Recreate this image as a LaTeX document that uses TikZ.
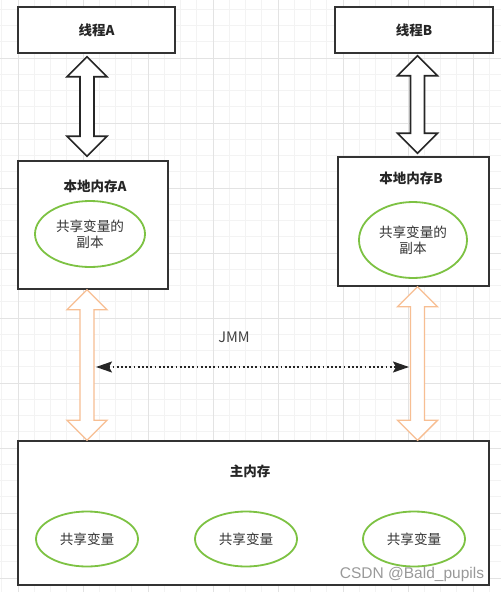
\documentclass[tikz,border=0pt]{standalone}
\usepackage{fontspec}
\setmainfont{Noto Sans CJK SC}
\newfontfamily\markfont{Liberation Sans}
\usetikzlibrary{calc,arrows.meta,shapes.geometric}
\definecolor{boxline}{HTML}{333333}
\definecolor{vargreen}{HTML}{7DC243}
\definecolor{syncorange}{HTML}{F7BE92}
\definecolor{gridminor}{HTML}{F3F3F3}
\definecolor{gridmajor}{HTML}{E3E3E3}
\tikzset{
  membox/.style={draw=boxline, line width=1.5pt, fill=white, inner sep=0pt},
  boxtitle/.style={font=\bfseries\fontsize{13.5}{16}\selectfont, text=black!85},
  varcell/.style={ellipse, draw=vargreen, line width=1.8pt, fill=white, inner sep=0pt,
    font=\fontsize{13.6}{16}\selectfont, text=boxline, align=center},
  blockblack/.style={draw=black!85, line width=1.6pt, fill=white, line join=miter},
  blockorange/.style={draw=syncorange, line width=1.4pt, fill=white, line join=miter},
  jmmline/.style={line width=1.8pt, dash pattern=on 1.8pt off 2.4pt, black!85,
    {Stealth[length=16pt,width=11pt,inset=3pt]}-{Stealth[length=16pt,width=11pt,inset=3pt]}}
}
% block double arrow between two points on one vertical line
\newcommand{\dblarrow}[3]{%
  \draw[#1] let \p1=#2, \p2=#3 in
    (\x1,\y1) -- (\x1+20pt,\y1-20pt) -- (\x1+7pt,\y1-20pt) -- (\x1+7pt,\y2+20pt)
    -- (\x1+20pt,\y2+20pt) -- (\x1,\y2) -- (\x1-20pt,\y2+20pt) -- (\x1-7pt,\y2+20pt)
    -- (\x1-7pt,\y1-20pt) -- (\x1-20pt,\y1-20pt) -- cycle;}
\begin{document}
\begin{tikzpicture}[x=1pt,y=-1pt]
  \useasboundingbox (0,0) rectangle (501,592);
  \fill[white] (0,0) rectangle (501,592);
  % background grid
  \foreach \i in {0,...,30}
    \draw[gridminor, line width=0.7pt] ({1.75+16.25*\i},0) -- ({1.75+16.25*\i},592);
  \foreach \i in {1,...,36}
    \draw[gridminor, line width=0.7pt] (0,{-7+16.25*\i}) -- (501,{-7+16.25*\i});
  \foreach \i in {0,...,7}
    \draw[gridmajor, line width=0.8pt] ({18+65*\i},0) -- ({18+65*\i},592);
  \foreach \i in {1,...,9}
    \draw[gridmajor, line width=0.8pt] (0,{-7+65*\i}) -- (501,{-7+65*\i});

  % threads
  \node[membox, boxtitle, minimum width=157pt, minimum height=46pt] (tA) at (96.5,30) {线程A};
  \node[membox, boxtitle, minimum width=158pt, minimum height=46pt] (tB) at (414,30) {线程B};

  % local memories
  \node[membox, minimum width=150pt, minimum height=128pt] (lA) at (93,225) {};
  \node[membox, minimum width=151pt, minimum height=129pt] (lB) at (413.5,221.5) {};
  \node[boxtitle] (lAt) at (95,186) {本地内存A};
  \node[boxtitle] (lBt) at (411,178) {本地内存B};
  \node[varcell, minimum width=110pt, minimum height=66pt] (eA) at (90,234) {共享变量的\\副本};
  \node[varcell, minimum width=108pt, minimum height=76pt] (eB) at (413,240) {共享变量的\\副本};

  % main memory
  \node[membox, minimum width=471pt, minimum height=144pt] (mm) at (253.5,513) {};
  \node[boxtitle] (mmt) at (250,471) {主内存};
  \node[varcell, minimum width=102pt, minimum height=55pt] (sv1) at (87,539) {共享变量};
  \node[varcell, minimum width=102pt, minimum height=55pt] (sv2) at (246,539) {共享变量};
  \node[varcell, minimum width=102pt, minimum height=55pt] (sv3) at (414,539) {共享变量};

  \coordinate (colA) at (87,0);
  \coordinate (colB) at (417.5,0);
  \dblarrow{blockblack}{($(tA.south -| colA)+(0,3)$)}{($(lA.north -| colA)+(0,-4)$)}
  \dblarrow{blockblack}{($(tB.south -| colB)+(0,2)$)}{($(lB.north -| colB)+(0,-3)$)}
  \dblarrow{blockorange}{(lA.south -| colA)}{(mm.north -| colA)}
  \dblarrow{blockorange}{(lB.south -| colB)}{(mm.north -| colB)}

  % JMM
  \node[font=\fontsize{14.5}{16}\selectfont, text=black!75] (jmm) at (234,337) {JMM};
  \coordinate (dA) at (96,367);
  \coordinate (dB) at (409,367);
  \draw[jmmline] (dA) -- (dB);

  \node[font=\markfont\fontsize{15.5}{18}\selectfont, text=black!40] (mark) at (412,574) {CSDN @Bald\_pupils};
\end{tikzpicture}
\end{document}
